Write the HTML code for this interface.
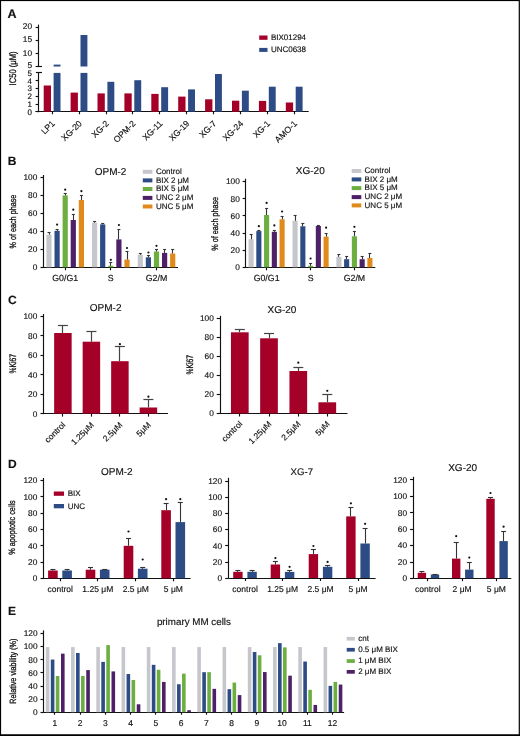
<!DOCTYPE html>
<html><head><meta charset="utf-8"><style>
html,body{margin:0;padding:0;background:#fff;}
svg{display:block;will-change:transform;font-family:"Liberation Sans",sans-serif;}
text{stroke:#111;stroke-width:0.15px;text-rendering:geometricPrecision;}
</style></head><body>
<svg width="520" height="736" viewBox="0 0 520 736">
<rect width="520" height="736" fill="#fff"/>
<text x="7.6" y="17.8" font-size="12.5" text-anchor="start" font-weight="bold" fill="#111">A</text>
<line x1="38.5" y1="24.6" x2="38.5" y2="66.5" stroke="#111" stroke-width="1.15"/>
<line x1="35.6" y1="66.5" x2="42" y2="66.5" stroke="#111" stroke-width="1.15"/>
<line x1="38.5" y1="72.9" x2="38.5" y2="112.2" stroke="#111" stroke-width="1.15"/>
<line x1="35.9" y1="72.5" x2="42" y2="72.5" stroke="#111" stroke-width="1.15"/>
<line x1="35.6" y1="27.5" x2="38.8" y2="27.5" stroke="#111" stroke-width="1.15"/>
<text x="32" y="29.4" font-size="8.3" text-anchor="end" fill="#111">20</text>
<line x1="35.6" y1="40.5" x2="38.8" y2="40.5" stroke="#111" stroke-width="1.15"/>
<text x="32" y="42.4" font-size="8.3" text-anchor="end" fill="#111">15</text>
<line x1="35.6" y1="53.5" x2="38.8" y2="53.5" stroke="#111" stroke-width="1.15"/>
<text x="32" y="55.6" font-size="8.3" text-anchor="end" fill="#111">10</text>
<text x="32" y="67.8" font-size="8.3" text-anchor="end" fill="#111">5</text>
<text x="32" y="76.1" font-size="8" text-anchor="end" fill="#111">5</text>
<line x1="35.6" y1="80.5" x2="38.8" y2="80.5" stroke="#111" stroke-width="1.15"/>
<text x="32" y="83.7" font-size="8" text-anchor="end" fill="#111">4</text>
<line x1="35.6" y1="88.5" x2="38.8" y2="88.5" stroke="#111" stroke-width="1.15"/>
<text x="32" y="91.4" font-size="8" text-anchor="end" fill="#111">3</text>
<line x1="35.6" y1="96.5" x2="38.8" y2="96.5" stroke="#111" stroke-width="1.15"/>
<text x="32" y="99.2" font-size="8" text-anchor="end" fill="#111">2</text>
<line x1="35.6" y1="104.5" x2="38.8" y2="104.5" stroke="#111" stroke-width="1.15"/>
<text x="32" y="107" font-size="8" text-anchor="end" fill="#111">1</text>
<line x1="35.6" y1="111.5" x2="38.8" y2="111.5" stroke="#111" stroke-width="1.15"/>
<text x="32" y="114.6" font-size="8" text-anchor="end" fill="#111">0</text>
<line x1="35.6" y1="111.5" x2="308.7" y2="111.5" stroke="#111" stroke-width="1.15"/>
<rect x="43.7" y="85.5" width="7.3" height="26.2" fill="#a50028"/>
<rect x="53.6" y="72.9" width="6.9" height="38.8" fill="#2d4b84"/>
<line x1="52.5" y1="111.7" x2="52.5" y2="114.3" stroke="#111" stroke-width="1.15"/>
<text transform="translate(55.5 124) rotate(-45)" font-size="8.6" text-anchor="end" fill="#111">LP1</text>
<rect x="70.6" y="92.6" width="7.3" height="19.1" fill="#a50028"/>
<rect x="80.5" y="72.9" width="6.9" height="38.8" fill="#2d4b84"/>
<line x1="79.5" y1="111.7" x2="79.5" y2="114.3" stroke="#111" stroke-width="1.15"/>
<text transform="translate(82.4 124) rotate(-45)" font-size="8.6" text-anchor="end" fill="#111">XG-20</text>
<rect x="97.5" y="93.4" width="7.3" height="18.3" fill="#a50028"/>
<rect x="107.4" y="81.8" width="6.9" height="29.9" fill="#2d4b84"/>
<line x1="106.5" y1="111.7" x2="106.5" y2="114.3" stroke="#111" stroke-width="1.15"/>
<text transform="translate(109.3 124) rotate(-45)" font-size="8.6" text-anchor="end" fill="#111">XG-2</text>
<rect x="124.4" y="93.4" width="7.3" height="18.3" fill="#a50028"/>
<rect x="134.3" y="80.2" width="6.9" height="31.5" fill="#2d4b84"/>
<line x1="132.5" y1="111.7" x2="132.5" y2="114.3" stroke="#111" stroke-width="1.15"/>
<text transform="translate(136.2 124) rotate(-45)" font-size="8.6" text-anchor="end" fill="#111">OPM-2</text>
<rect x="151.3" y="93.9" width="7.3" height="17.8" fill="#a50028"/>
<rect x="161.2" y="87.2" width="6.9" height="24.5" fill="#2d4b84"/>
<line x1="159.5" y1="111.7" x2="159.5" y2="114.3" stroke="#111" stroke-width="1.15"/>
<text transform="translate(163.1 124) rotate(-45)" font-size="8.6" text-anchor="end" fill="#111">XG-11</text>
<rect x="178.2" y="96.6" width="7.3" height="15.1" fill="#a50028"/>
<rect x="188.1" y="89.4" width="6.9" height="22.3" fill="#2d4b84"/>
<line x1="186.5" y1="111.7" x2="186.5" y2="114.3" stroke="#111" stroke-width="1.15"/>
<text transform="translate(190 124) rotate(-45)" font-size="8.6" text-anchor="end" fill="#111">XG-19</text>
<rect x="205.1" y="99.3" width="7.3" height="12.4" fill="#a50028"/>
<rect x="215" y="74" width="6.9" height="37.7" fill="#2d4b84"/>
<line x1="213.5" y1="111.7" x2="213.5" y2="114.3" stroke="#111" stroke-width="1.15"/>
<text transform="translate(216.9 124) rotate(-45)" font-size="8.6" text-anchor="end" fill="#111">XG-7</text>
<rect x="232" y="100.7" width="7.3" height="11" fill="#a50028"/>
<rect x="241.9" y="90.7" width="6.9" height="21" fill="#2d4b84"/>
<line x1="240.5" y1="111.7" x2="240.5" y2="114.3" stroke="#111" stroke-width="1.15"/>
<text transform="translate(243.8 124) rotate(-45)" font-size="8.6" text-anchor="end" fill="#111">XG-24</text>
<rect x="258.9" y="100.9" width="7.3" height="10.8" fill="#a50028"/>
<rect x="268.8" y="86.7" width="6.9" height="25" fill="#2d4b84"/>
<line x1="267.5" y1="111.7" x2="267.5" y2="114.3" stroke="#111" stroke-width="1.15"/>
<text transform="translate(270.7 124) rotate(-45)" font-size="8.6" text-anchor="end" fill="#111">XG-1</text>
<rect x="285.8" y="102.5" width="7.3" height="9.2" fill="#a50028"/>
<rect x="295.7" y="86.7" width="6.9" height="25" fill="#2d4b84"/>
<line x1="294.5" y1="111.7" x2="294.5" y2="114.3" stroke="#111" stroke-width="1.15"/>
<text transform="translate(297.6 124) rotate(-45)" font-size="8.6" text-anchor="end" fill="#111">AMO-1</text>
<rect x="53.6" y="64.6" width="6.9" height="1.9" fill="#2d4b84"/>
<rect x="80.5" y="35" width="6.9" height="31.5" fill="#2d4b84"/>
<text transform="translate(16.3 68.4) rotate(-90)" font-size="9.6" text-anchor="middle" fill="#111" textLength="34" lengthAdjust="spacingAndGlyphs" style="stroke-width:0.3px">IC50 (&#956;M)</text>
<rect x="259.2" y="35.5" width="8.3" height="4.3" fill="#a50028"/>
<text x="270.9" y="39.8" font-size="8" text-anchor="start" fill="#111">BIX01294</text>
<rect x="259.2" y="47.9" width="8.3" height="4" fill="#2d4b84"/>
<text x="270.9" y="51.9" font-size="8" text-anchor="start" fill="#111">UNC0638</text>
<text x="7.8" y="164.8" font-size="12" text-anchor="start" font-weight="bold" fill="#111">B</text>
<line x1="43.5" y1="175" x2="43.5" y2="267.8" stroke="#111" stroke-width="1.15"/>
<line x1="40.5" y1="177.5" x2="43.8" y2="177.5" stroke="#111" stroke-width="1.15"/>
<text x="37.3" y="180.1" font-size="8.3" text-anchor="end" fill="#111">100</text>
<line x1="40.5" y1="195.5" x2="43.8" y2="195.5" stroke="#111" stroke-width="1.15"/>
<text x="37.3" y="198.3" font-size="8.3" text-anchor="end" fill="#111">80</text>
<line x1="40.5" y1="213.5" x2="43.8" y2="213.5" stroke="#111" stroke-width="1.15"/>
<text x="37.3" y="216.3" font-size="8.3" text-anchor="end" fill="#111">60</text>
<line x1="40.5" y1="231.5" x2="43.8" y2="231.5" stroke="#111" stroke-width="1.15"/>
<text x="37.3" y="234.3" font-size="8.3" text-anchor="end" fill="#111">40</text>
<line x1="40.5" y1="249.5" x2="43.8" y2="249.5" stroke="#111" stroke-width="1.15"/>
<text x="37.3" y="252.1" font-size="8.3" text-anchor="end" fill="#111">20</text>
<line x1="40.5" y1="267.5" x2="43.8" y2="267.5" stroke="#111" stroke-width="1.15"/>
<text x="37.3" y="270.2" font-size="8.3" text-anchor="end" fill="#111">0</text>
<line x1="43.8" y1="267.5" x2="178" y2="267.5" stroke="#111" stroke-width="1.15"/>
<line x1="65.5" y1="267.3" x2="65.5" y2="270.3" stroke="#111" stroke-width="1.15"/>
<line x1="110.5" y1="267.3" x2="110.5" y2="270.3" stroke="#111" stroke-width="1.15"/>
<line x1="156.5" y1="267.3" x2="156.5" y2="270.3" stroke="#111" stroke-width="1.15"/>
<rect x="46.4" y="234.6" width="5.2" height="32.7" fill="#c6c6cd"/>
<line x1="49.5" y1="234.6" x2="49.5" y2="232.3" stroke="#333" stroke-width="1.1"/>
<line x1="47.5" y1="232.5" x2="50.5" y2="232.5" stroke="#333" stroke-width="1.1"/>
<rect x="54.5" y="230.8" width="5.2" height="36.5" fill="#2d4b84"/>
<line x1="57.5" y1="230.8" x2="57.5" y2="229.2" stroke="#333" stroke-width="1.1"/>
<line x1="55.6" y1="229.5" x2="58.6" y2="229.5" stroke="#333" stroke-width="1.1"/>
<circle cx="57.1" cy="224.6" r="1.1" fill="#111"/>
<rect x="62.6" y="195.4" width="5.2" height="71.9" fill="#6cae3f"/>
<line x1="65.5" y1="195.4" x2="65.5" y2="193.8" stroke="#333" stroke-width="1.1"/>
<line x1="63.7" y1="193.5" x2="66.7" y2="193.5" stroke="#333" stroke-width="1.1"/>
<circle cx="65.2" cy="189.7" r="1.1" fill="#111"/>
<rect x="70.7" y="220" width="5.2" height="47.3" fill="#4e2067"/>
<line x1="73.5" y1="220" x2="73.5" y2="214.2" stroke="#333" stroke-width="1.1"/>
<line x1="71.8" y1="214.5" x2="74.8" y2="214.5" stroke="#333" stroke-width="1.1"/>
<circle cx="73.3" cy="209.7" r="1.1" fill="#111"/>
<rect x="78.8" y="200" width="5.2" height="67.3" fill="#e08a1c"/>
<line x1="81.5" y1="200" x2="81.5" y2="195" stroke="#333" stroke-width="1.1"/>
<line x1="79.9" y1="195.5" x2="82.9" y2="195.5" stroke="#333" stroke-width="1.1"/>
<circle cx="81.4" cy="191.2" r="1.1" fill="#111"/>
<rect x="92" y="222.7" width="5.2" height="44.6" fill="#c6c6cd"/>
<line x1="94.5" y1="222.7" x2="94.5" y2="221.8" stroke="#333" stroke-width="1.1"/>
<line x1="93.1" y1="221.5" x2="96.1" y2="221.5" stroke="#333" stroke-width="1.1"/>
<rect x="100.1" y="224.4" width="5.2" height="42.9" fill="#2d4b84"/>
<line x1="102.5" y1="224.4" x2="102.5" y2="223.6" stroke="#333" stroke-width="1.1"/>
<line x1="101.2" y1="223.5" x2="104.2" y2="223.5" stroke="#333" stroke-width="1.1"/>
<rect x="108.2" y="265.8" width="5.2" height="1.5" fill="#6cae3f"/>
<line x1="110.5" y1="265.8" x2="110.5" y2="262.5" stroke="#333" stroke-width="1.1"/>
<line x1="109.3" y1="262.5" x2="112.3" y2="262.5" stroke="#333" stroke-width="1.1"/>
<circle cx="110.8" cy="259.8" r="1.1" fill="#111"/>
<rect x="116.3" y="239.4" width="5.2" height="27.9" fill="#4e2067"/>
<line x1="118.5" y1="239.4" x2="118.5" y2="229.2" stroke="#333" stroke-width="1.1"/>
<line x1="117.4" y1="229.5" x2="120.4" y2="229.5" stroke="#333" stroke-width="1.1"/>
<circle cx="118.9" cy="225" r="1.1" fill="#111"/>
<rect x="124.4" y="259.6" width="5.2" height="7.7" fill="#e08a1c"/>
<line x1="127.5" y1="259.6" x2="127.5" y2="251.5" stroke="#333" stroke-width="1.1"/>
<line x1="125.5" y1="251.5" x2="128.5" y2="251.5" stroke="#333" stroke-width="1.1"/>
<circle cx="127" cy="248" r="1.1" fill="#111"/>
<rect x="137.7" y="254.8" width="5.2" height="12.5" fill="#c6c6cd"/>
<line x1="140.5" y1="254.8" x2="140.5" y2="253" stroke="#333" stroke-width="1.1"/>
<line x1="138.8" y1="253.5" x2="141.8" y2="253.5" stroke="#333" stroke-width="1.1"/>
<rect x="145.8" y="257.3" width="5.2" height="10" fill="#2d4b84"/>
<line x1="148.5" y1="257.3" x2="148.5" y2="255.8" stroke="#333" stroke-width="1.1"/>
<line x1="146.9" y1="255.5" x2="149.9" y2="255.5" stroke="#333" stroke-width="1.1"/>
<circle cx="148.4" cy="252.5" r="1.1" fill="#111"/>
<rect x="153.9" y="251.5" width="5.2" height="15.8" fill="#6cae3f"/>
<line x1="156.5" y1="251.5" x2="156.5" y2="249.6" stroke="#333" stroke-width="1.1"/>
<line x1="155" y1="249.5" x2="158" y2="249.5" stroke="#333" stroke-width="1.1"/>
<circle cx="156.5" cy="245.8" r="1.1" fill="#111"/>
<rect x="162" y="252.9" width="5.2" height="14.4" fill="#4e2067"/>
<line x1="164.5" y1="252.9" x2="164.5" y2="249" stroke="#333" stroke-width="1.1"/>
<line x1="163.1" y1="249.5" x2="166.1" y2="249.5" stroke="#333" stroke-width="1.1"/>
<rect x="170.1" y="253.5" width="5.2" height="13.8" fill="#e08a1c"/>
<line x1="172.5" y1="253.5" x2="172.5" y2="249.6" stroke="#333" stroke-width="1.1"/>
<line x1="171.2" y1="249.5" x2="174.2" y2="249.5" stroke="#333" stroke-width="1.1"/>
<text x="65.2" y="281.2" font-size="8.8" text-anchor="middle" fill="#111">G0/G1</text>
<text x="110.8" y="281.2" font-size="8.8" text-anchor="middle" fill="#111">S</text>
<text x="156.5" y="281.2" font-size="8.8" text-anchor="middle" fill="#111">G2/M</text>
<text x="94.7" y="174.8" font-size="10" text-anchor="start" fill="#111">OPM-2</text>
<rect x="142.8" y="169.8" width="9.6" height="4" fill="#c6c6cd"/>
<text x="155.9" y="173.9" font-size="8" text-anchor="start" fill="#111">Control</text>
<rect x="142.8" y="178.4" width="9.6" height="4" fill="#2d4b84"/>
<text x="155.9" y="182.5" font-size="8" text-anchor="start" fill="#111">BIX 2 &#956;M</text>
<rect x="142.8" y="187" width="9.6" height="4" fill="#6cae3f"/>
<text x="155.9" y="191.1" font-size="8" text-anchor="start" fill="#111">BIX 5 &#956;M</text>
<rect x="142.8" y="195.9" width="9.6" height="4" fill="#4e2067"/>
<text x="155.9" y="200" font-size="8" text-anchor="start" fill="#111">UNC 2 &#956;M</text>
<rect x="142.8" y="204.5" width="9.6" height="4" fill="#e08a1c"/>
<text x="155.9" y="208.6" font-size="8" text-anchor="start" fill="#111">UNC 5 &#956;M</text>
<text transform="translate(15.5 221.6) rotate(-90)" font-size="9.3" text-anchor="middle" fill="#111" textLength="53.8" lengthAdjust="spacingAndGlyphs" style="stroke-width:0.3px">% of each phase</text>
<line x1="245.5" y1="178.7" x2="245.5" y2="267.8" stroke="#111" stroke-width="1.15"/>
<line x1="242.6" y1="181.5" x2="245.9" y2="181.5" stroke="#111" stroke-width="1.15"/>
<text x="239.8" y="184.3" font-size="8.3" text-anchor="end" fill="#111">100</text>
<line x1="242.6" y1="198.5" x2="245.9" y2="198.5" stroke="#111" stroke-width="1.15"/>
<text x="239.8" y="201.5" font-size="8.3" text-anchor="end" fill="#111">80</text>
<line x1="242.6" y1="215.5" x2="245.9" y2="215.5" stroke="#111" stroke-width="1.15"/>
<text x="239.8" y="218.6" font-size="8.3" text-anchor="end" fill="#111">60</text>
<line x1="242.6" y1="233.5" x2="245.9" y2="233.5" stroke="#111" stroke-width="1.15"/>
<text x="239.8" y="235.9" font-size="8.3" text-anchor="end" fill="#111">40</text>
<line x1="242.6" y1="250.5" x2="245.9" y2="250.5" stroke="#111" stroke-width="1.15"/>
<text x="239.8" y="253" font-size="8.3" text-anchor="end" fill="#111">20</text>
<line x1="242.6" y1="267.5" x2="245.9" y2="267.5" stroke="#111" stroke-width="1.15"/>
<text x="239.8" y="270.2" font-size="8.3" text-anchor="end" fill="#111">0</text>
<line x1="245.9" y1="267.5" x2="375.3" y2="267.5" stroke="#111" stroke-width="1.15"/>
<line x1="266.5" y1="267.3" x2="266.5" y2="270.3" stroke="#111" stroke-width="1.15"/>
<line x1="310.5" y1="267.3" x2="310.5" y2="270.3" stroke="#111" stroke-width="1.15"/>
<line x1="354.5" y1="267.3" x2="354.5" y2="270.3" stroke="#111" stroke-width="1.15"/>
<rect x="248.55" y="239.2" width="5.1" height="28.1" fill="#c6c6cd"/>
<line x1="251.5" y1="239.2" x2="251.5" y2="234" stroke="#333" stroke-width="1.1"/>
<line x1="249.6" y1="234.5" x2="252.6" y2="234.5" stroke="#333" stroke-width="1.1"/>
<rect x="256.3" y="231.1" width="5.1" height="36.2" fill="#2d4b84"/>
<line x1="258.5" y1="231.1" x2="258.5" y2="230.2" stroke="#333" stroke-width="1.1"/>
<line x1="257.35" y1="230.5" x2="260.35" y2="230.5" stroke="#333" stroke-width="1.1"/>
<circle cx="258.85" cy="226.2" r="1.1" fill="#111"/>
<rect x="264.05" y="215" width="5.1" height="52.3" fill="#6cae3f"/>
<line x1="266.5" y1="215" x2="266.5" y2="208.4" stroke="#333" stroke-width="1.1"/>
<line x1="265.1" y1="208.5" x2="268.1" y2="208.5" stroke="#333" stroke-width="1.1"/>
<circle cx="266.6" cy="202.9" r="1.1" fill="#111"/>
<rect x="271.8" y="231.8" width="5.1" height="35.5" fill="#4e2067"/>
<line x1="274.5" y1="231.8" x2="274.5" y2="230" stroke="#333" stroke-width="1.1"/>
<line x1="272.85" y1="230.5" x2="275.85" y2="230.5" stroke="#333" stroke-width="1.1"/>
<circle cx="274.35" cy="225.4" r="1.1" fill="#111"/>
<rect x="279.55" y="219.3" width="5.1" height="48" fill="#e08a1c"/>
<line x1="282.5" y1="219.3" x2="282.5" y2="216.4" stroke="#333" stroke-width="1.1"/>
<line x1="280.6" y1="216.5" x2="283.6" y2="216.5" stroke="#333" stroke-width="1.1"/>
<circle cx="282.1" cy="211.5" r="1.1" fill="#111"/>
<rect x="292.55" y="220.8" width="5.1" height="46.5" fill="#c6c6cd"/>
<line x1="295.5" y1="220.8" x2="295.5" y2="215.2" stroke="#333" stroke-width="1.1"/>
<line x1="293.6" y1="215.5" x2="296.6" y2="215.5" stroke="#333" stroke-width="1.1"/>
<rect x="300.3" y="226.3" width="5.1" height="41" fill="#2d4b84"/>
<line x1="302.5" y1="226.3" x2="302.5" y2="223.4" stroke="#333" stroke-width="1.1"/>
<line x1="301.35" y1="223.5" x2="304.35" y2="223.5" stroke="#333" stroke-width="1.1"/>
<rect x="308.05" y="265.8" width="5.1" height="1.5" fill="#6cae3f"/>
<line x1="310.5" y1="265.8" x2="310.5" y2="263.2" stroke="#333" stroke-width="1.1"/>
<line x1="309.1" y1="263.5" x2="312.1" y2="263.5" stroke="#333" stroke-width="1.1"/>
<circle cx="310.6" cy="258.5" r="1.1" fill="#111"/>
<rect x="315.8" y="226" width="5.1" height="41.3" fill="#4e2067"/>
<line x1="318.5" y1="226" x2="318.5" y2="225" stroke="#333" stroke-width="1.1"/>
<line x1="316.85" y1="225.5" x2="319.85" y2="225.5" stroke="#333" stroke-width="1.1"/>
<rect x="323.55" y="236.7" width="5.1" height="30.6" fill="#e08a1c"/>
<line x1="326.5" y1="236.7" x2="326.5" y2="233.2" stroke="#333" stroke-width="1.1"/>
<line x1="324.6" y1="233.5" x2="327.6" y2="233.5" stroke="#333" stroke-width="1.1"/>
<circle cx="326.1" cy="227.7" r="1.1" fill="#111"/>
<rect x="336.35" y="256.8" width="5.1" height="10.5" fill="#c6c6cd"/>
<line x1="338.5" y1="256.8" x2="338.5" y2="254.3" stroke="#333" stroke-width="1.1"/>
<line x1="337.4" y1="254.5" x2="340.4" y2="254.5" stroke="#333" stroke-width="1.1"/>
<rect x="344.1" y="259.2" width="5.1" height="8.1" fill="#2d4b84"/>
<line x1="346.5" y1="259.2" x2="346.5" y2="256.4" stroke="#333" stroke-width="1.1"/>
<line x1="345.15" y1="256.5" x2="348.15" y2="256.5" stroke="#333" stroke-width="1.1"/>
<rect x="351.85" y="236.3" width="5.1" height="31" fill="#6cae3f"/>
<line x1="354.5" y1="236.3" x2="354.5" y2="231.7" stroke="#333" stroke-width="1.1"/>
<line x1="352.9" y1="231.5" x2="355.9" y2="231.5" stroke="#333" stroke-width="1.1"/>
<circle cx="354.4" cy="226.8" r="1.1" fill="#111"/>
<rect x="359.6" y="259.2" width="5.1" height="8.1" fill="#4e2067"/>
<line x1="362.5" y1="259.2" x2="362.5" y2="256.6" stroke="#333" stroke-width="1.1"/>
<line x1="360.65" y1="256.5" x2="363.65" y2="256.5" stroke="#333" stroke-width="1.1"/>
<rect x="367.35" y="258" width="5.1" height="9.3" fill="#e08a1c"/>
<line x1="369.5" y1="258" x2="369.5" y2="253.3" stroke="#333" stroke-width="1.1"/>
<line x1="368.4" y1="253.5" x2="371.4" y2="253.5" stroke="#333" stroke-width="1.1"/>
<text x="266.6" y="281" font-size="8.8" text-anchor="middle" fill="#111">G0/G1</text>
<text x="310.6" y="281" font-size="8.8" text-anchor="middle" fill="#111">S</text>
<text x="354.4" y="281" font-size="8.8" text-anchor="middle" fill="#111">G2/M</text>
<text x="295.8" y="174.3" font-size="10" text-anchor="start" fill="#111">XG-20</text>
<rect x="351.7" y="169" width="9.6" height="4" fill="#c6c6cd"/>
<text x="364.6" y="173.1" font-size="8" text-anchor="start" fill="#111">Control</text>
<rect x="351.7" y="177.4" width="9.6" height="4" fill="#2d4b84"/>
<text x="364.6" y="181.5" font-size="8" text-anchor="start" fill="#111">BIX 2 &#956;M</text>
<rect x="351.7" y="186.1" width="9.6" height="4" fill="#6cae3f"/>
<text x="364.6" y="190.2" font-size="8" text-anchor="start" fill="#111">BIX 5 &#956;M</text>
<rect x="351.7" y="195.1" width="9.6" height="4" fill="#4e2067"/>
<text x="364.6" y="199.2" font-size="8" text-anchor="start" fill="#111">UNC 2 &#956;M</text>
<rect x="351.7" y="203.4" width="9.6" height="4" fill="#e08a1c"/>
<text x="364.6" y="207.5" font-size="8" text-anchor="start" fill="#111">UNC 5 &#956;M</text>
<text transform="translate(217.5 223.8) rotate(-90)" font-size="9.3" text-anchor="middle" fill="#111" textLength="53.8" lengthAdjust="spacingAndGlyphs" style="stroke-width:0.3px">% of each phase</text>
<text x="7.9" y="303.8" font-size="12" text-anchor="start" font-weight="bold" fill="#111">C</text>
<line x1="43.5" y1="314" x2="43.5" y2="414.1" stroke="#111" stroke-width="1.15"/>
<line x1="40.5" y1="316.5" x2="43.8" y2="316.5" stroke="#111" stroke-width="1.15"/>
<text x="37.3" y="319.2" font-size="8.3" text-anchor="end" fill="#111">100</text>
<line x1="40.5" y1="335.5" x2="43.8" y2="335.5" stroke="#111" stroke-width="1.15"/>
<text x="37.3" y="338.7" font-size="8.3" text-anchor="end" fill="#111">80</text>
<line x1="40.5" y1="355.5" x2="43.8" y2="355.5" stroke="#111" stroke-width="1.15"/>
<text x="37.3" y="358.3" font-size="8.3" text-anchor="end" fill="#111">60</text>
<line x1="40.5" y1="374.5" x2="43.8" y2="374.5" stroke="#111" stroke-width="1.15"/>
<text x="37.3" y="377.5" font-size="8.3" text-anchor="end" fill="#111">40</text>
<line x1="40.5" y1="394.5" x2="43.8" y2="394.5" stroke="#111" stroke-width="1.15"/>
<text x="37.3" y="396.9" font-size="8.3" text-anchor="end" fill="#111">20</text>
<line x1="40.5" y1="413.5" x2="43.8" y2="413.5" stroke="#111" stroke-width="1.15"/>
<text x="37.3" y="416.5" font-size="8.3" text-anchor="end" fill="#111">0</text>
<line x1="43.8" y1="413.5" x2="168" y2="413.5" stroke="#111" stroke-width="1.15"/>
<line x1="62.5" y1="413.6" x2="62.5" y2="416.6" stroke="#111" stroke-width="1.15"/>
<line x1="91.5" y1="413.6" x2="91.5" y2="416.6" stroke="#111" stroke-width="1.15"/>
<line x1="119.5" y1="413.6" x2="119.5" y2="416.6" stroke="#111" stroke-width="1.15"/>
<line x1="148.5" y1="413.6" x2="148.5" y2="416.6" stroke="#111" stroke-width="1.15"/>
<rect x="54.15" y="333" width="17.5" height="80.6" fill="#a50028"/>
<line x1="62.5" y1="333" x2="62.5" y2="325.5" stroke="#444" stroke-width="1.2"/>
<line x1="57.9" y1="325.5" x2="67.9" y2="325.5" stroke="#444" stroke-width="1.2"/>
<rect x="82.65" y="341.7" width="17.5" height="71.9" fill="#a50028"/>
<line x1="91.5" y1="341.7" x2="91.5" y2="331.5" stroke="#444" stroke-width="1.2"/>
<line x1="86.4" y1="331.5" x2="96.4" y2="331.5" stroke="#444" stroke-width="1.2"/>
<rect x="111.15" y="361.2" width="17.5" height="52.4" fill="#a50028"/>
<line x1="119.5" y1="361.2" x2="119.5" y2="346.9" stroke="#444" stroke-width="1.2"/>
<line x1="114.9" y1="346.5" x2="124.9" y2="346.5" stroke="#444" stroke-width="1.2"/>
<circle cx="119.9" cy="344.2" r="1.1" fill="#111"/>
<rect x="139.65" y="407.5" width="17.5" height="6.1" fill="#a50028"/>
<line x1="148.5" y1="407.5" x2="148.5" y2="399.4" stroke="#444" stroke-width="1.2"/>
<line x1="143.4" y1="399.5" x2="153.4" y2="399.5" stroke="#444" stroke-width="1.2"/>
<circle cx="148.4" cy="396.7" r="1.1" fill="#111"/>
<text transform="translate(65.9 425.5) rotate(-45)" font-size="8.4" text-anchor="end" fill="#111">control</text>
<text transform="translate(94.4 425.5) rotate(-45)" font-size="8.4" text-anchor="end" fill="#111">1.25&#956;M</text>
<text transform="translate(122.9 425.5) rotate(-45)" font-size="8.4" text-anchor="end" fill="#111">2.5&#956;M</text>
<text transform="translate(151.4 425.5) rotate(-45)" font-size="8.4" text-anchor="end" fill="#111">5&#956;M</text>
<text x="89.8" y="310.6" font-size="10" text-anchor="start" fill="#111">OPM-2</text>
<text transform="translate(15.8 363.8) rotate(-90)" font-size="9.5" text-anchor="middle" fill="#111" textLength="19.5" lengthAdjust="spacingAndGlyphs" style="stroke-width:0.3px">%Ki67</text>
<line x1="220.5" y1="315.8" x2="220.5" y2="414" stroke="#111" stroke-width="1.15"/>
<line x1="216.7" y1="318.5" x2="220" y2="318.5" stroke="#111" stroke-width="1.15"/>
<text x="213.8" y="321.2" font-size="8.3" text-anchor="end" fill="#111">100</text>
<line x1="216.7" y1="337.5" x2="220" y2="337.5" stroke="#111" stroke-width="1.15"/>
<text x="213.8" y="340.4" font-size="8.3" text-anchor="end" fill="#111">80</text>
<line x1="216.7" y1="356.5" x2="220" y2="356.5" stroke="#111" stroke-width="1.15"/>
<text x="213.8" y="359.1" font-size="8.3" text-anchor="end" fill="#111">60</text>
<line x1="216.7" y1="375.5" x2="220" y2="375.5" stroke="#111" stroke-width="1.15"/>
<text x="213.8" y="378.3" font-size="8.3" text-anchor="end" fill="#111">40</text>
<line x1="216.7" y1="394.5" x2="220" y2="394.5" stroke="#111" stroke-width="1.15"/>
<text x="213.8" y="397.1" font-size="8.3" text-anchor="end" fill="#111">20</text>
<line x1="216.7" y1="413.5" x2="220" y2="413.5" stroke="#111" stroke-width="1.15"/>
<text x="213.8" y="416.4" font-size="8.3" text-anchor="end" fill="#111">0</text>
<line x1="220" y1="413.5" x2="347.5" y2="413.5" stroke="#111" stroke-width="1.15"/>
<line x1="239.5" y1="413.5" x2="239.5" y2="416.5" stroke="#111" stroke-width="1.15"/>
<line x1="269.5" y1="413.5" x2="269.5" y2="416.5" stroke="#111" stroke-width="1.15"/>
<line x1="298.5" y1="413.5" x2="298.5" y2="416.5" stroke="#111" stroke-width="1.15"/>
<line x1="327.5" y1="413.5" x2="327.5" y2="416.5" stroke="#111" stroke-width="1.15"/>
<rect x="230.95" y="332.3" width="17.7" height="81.2" fill="#a50028"/>
<line x1="239.5" y1="332.3" x2="239.5" y2="329.2" stroke="#444" stroke-width="1.2"/>
<line x1="234.8" y1="329.5" x2="244.8" y2="329.5" stroke="#444" stroke-width="1.2"/>
<rect x="260.15" y="338.3" width="17.7" height="75.2" fill="#a50028"/>
<line x1="269.5" y1="338.3" x2="269.5" y2="333.7" stroke="#444" stroke-width="1.2"/>
<line x1="264" y1="333.5" x2="274" y2="333.5" stroke="#444" stroke-width="1.2"/>
<rect x="289.45" y="371" width="17.7" height="42.5" fill="#a50028"/>
<line x1="298.5" y1="371" x2="298.5" y2="367.7" stroke="#444" stroke-width="1.2"/>
<line x1="293.3" y1="367.5" x2="303.3" y2="367.5" stroke="#444" stroke-width="1.2"/>
<circle cx="298.3" cy="362.7" r="1.1" fill="#111"/>
<rect x="318.45" y="402.3" width="17.7" height="11.2" fill="#a50028"/>
<line x1="327.5" y1="402.3" x2="327.5" y2="394" stroke="#444" stroke-width="1.2"/>
<line x1="322.3" y1="394.5" x2="332.3" y2="394.5" stroke="#444" stroke-width="1.2"/>
<circle cx="327.3" cy="390.8" r="1.1" fill="#111"/>
<text transform="translate(242.8 424.5) rotate(-45)" font-size="8.4" text-anchor="end" fill="#111">control</text>
<text transform="translate(272 424.5) rotate(-45)" font-size="8.4" text-anchor="end" fill="#111">1.25&#956;M</text>
<text transform="translate(301.3 424.5) rotate(-45)" font-size="8.4" text-anchor="end" fill="#111">2.5&#956;M</text>
<text transform="translate(330.3 424.5) rotate(-45)" font-size="8.4" text-anchor="end" fill="#111">5&#956;M</text>
<text x="267.5" y="312.7" font-size="10" text-anchor="start" fill="#111">XG-20</text>
<text transform="translate(193.2 364.8) rotate(-90)" font-size="9.5" text-anchor="middle" fill="#111" textLength="19.5" lengthAdjust="spacingAndGlyphs" style="stroke-width:0.3px">%Ki67</text>
<text x="7.9" y="467.9" font-size="12" text-anchor="start" font-weight="bold" fill="#111">D</text>
<line x1="43.5" y1="478" x2="43.5" y2="578.8" stroke="#111" stroke-width="1.15"/>
<line x1="40.5" y1="480.5" x2="43.8" y2="480.5" stroke="#111" stroke-width="1.15"/>
<text x="37.3" y="483.3" font-size="8.3" text-anchor="end" fill="#111">120</text>
<line x1="40.5" y1="496.5" x2="43.8" y2="496.5" stroke="#111" stroke-width="1.15"/>
<text x="37.3" y="499.6" font-size="8.3" text-anchor="end" fill="#111">100</text>
<line x1="40.5" y1="513.5" x2="43.8" y2="513.5" stroke="#111" stroke-width="1.15"/>
<text x="37.3" y="516" font-size="8.3" text-anchor="end" fill="#111">80</text>
<line x1="40.5" y1="529.5" x2="43.8" y2="529.5" stroke="#111" stroke-width="1.15"/>
<text x="37.3" y="532.3" font-size="8.3" text-anchor="end" fill="#111">60</text>
<line x1="40.5" y1="545.5" x2="43.8" y2="545.5" stroke="#111" stroke-width="1.15"/>
<text x="37.3" y="548.7" font-size="8.3" text-anchor="end" fill="#111">40</text>
<line x1="40.5" y1="562.5" x2="43.8" y2="562.5" stroke="#111" stroke-width="1.15"/>
<text x="37.3" y="565" font-size="8.3" text-anchor="end" fill="#111">20</text>
<line x1="40.5" y1="578.5" x2="43.8" y2="578.5" stroke="#111" stroke-width="1.15"/>
<text x="37.3" y="581.2" font-size="8.3" text-anchor="end" fill="#111">0</text>
<line x1="43.8" y1="578.5" x2="190.5" y2="578.5" stroke="#111" stroke-width="1.15"/>
<line x1="60.5" y1="578.3" x2="60.5" y2="581.3" stroke="#111" stroke-width="1.15"/>
<line x1="97.5" y1="578.3" x2="97.5" y2="581.3" stroke="#111" stroke-width="1.15"/>
<line x1="135.5" y1="578.3" x2="135.5" y2="581.3" stroke="#111" stroke-width="1.15"/>
<line x1="173.5" y1="578.3" x2="173.5" y2="581.3" stroke="#111" stroke-width="1.15"/>
<rect x="48.1" y="570.5" width="9.6" height="7.8" fill="#a50028"/>
<line x1="52.5" y1="570.5" x2="52.5" y2="569.3" stroke="#333" stroke-width="1.1"/>
<line x1="50.4" y1="569.5" x2="55.4" y2="569.5" stroke="#333" stroke-width="1.1"/>
<rect x="62.3" y="570.5" width="9.6" height="7.8" fill="#2d4b84"/>
<line x1="67.5" y1="570.5" x2="67.5" y2="569.3" stroke="#333" stroke-width="1.1"/>
<line x1="64.6" y1="569.5" x2="69.6" y2="569.5" stroke="#333" stroke-width="1.1"/>
<text x="60.2" y="592.4" font-size="8.5" text-anchor="middle" fill="#111">control</text>
<rect x="85.7" y="569.7" width="9.6" height="8.6" fill="#a50028"/>
<line x1="90.5" y1="569.7" x2="90.5" y2="567.3" stroke="#333" stroke-width="1.1"/>
<line x1="88" y1="567.5" x2="93" y2="567.5" stroke="#333" stroke-width="1.1"/>
<rect x="99.9" y="569.7" width="9.6" height="8.6" fill="#2d4b84"/>
<line x1="104.5" y1="569.7" x2="104.5" y2="569" stroke="#333" stroke-width="1.1"/>
<line x1="102.2" y1="569.5" x2="107.2" y2="569.5" stroke="#333" stroke-width="1.1"/>
<text x="97.8" y="592.4" font-size="8.5" text-anchor="middle" fill="#111">1.25 &#956;M</text>
<rect x="123.7" y="545.8" width="9.6" height="32.5" fill="#a50028"/>
<line x1="128.5" y1="545.8" x2="128.5" y2="538.2" stroke="#333" stroke-width="1.1"/>
<line x1="126" y1="538.5" x2="131" y2="538.5" stroke="#333" stroke-width="1.1"/>
<circle cx="128.5" cy="531.5" r="1.1" fill="#111"/>
<rect x="137.9" y="568.7" width="9.6" height="9.6" fill="#2d4b84"/>
<line x1="142.5" y1="568.7" x2="142.5" y2="567.3" stroke="#333" stroke-width="1.1"/>
<line x1="140.2" y1="567.5" x2="145.2" y2="567.5" stroke="#333" stroke-width="1.1"/>
<circle cx="142.7" cy="559.5" r="1.1" fill="#111"/>
<text x="135.8" y="592.4" font-size="8.5" text-anchor="middle" fill="#111">2.5 &#956;M</text>
<rect x="161.3" y="510.2" width="9.6" height="68.1" fill="#a50028"/>
<line x1="166.5" y1="510.2" x2="166.5" y2="503.6" stroke="#333" stroke-width="1.1"/>
<line x1="163.6" y1="503.5" x2="168.6" y2="503.5" stroke="#333" stroke-width="1.1"/>
<circle cx="166.1" cy="499.2" r="1.1" fill="#111"/>
<rect x="175.5" y="522.1" width="9.6" height="56.2" fill="#2d4b84"/>
<line x1="180.5" y1="522.1" x2="180.5" y2="502.3" stroke="#333" stroke-width="1.1"/>
<line x1="177.8" y1="502.5" x2="182.8" y2="502.5" stroke="#333" stroke-width="1.1"/>
<circle cx="180.3" cy="499.2" r="1.1" fill="#111"/>
<text x="173.4" y="592.4" font-size="8.5" text-anchor="middle" fill="#111">5 &#956;M</text>
<text x="101" y="474.9" font-size="10" text-anchor="start" fill="#111">OPM-2</text>
<rect x="53.8" y="491.5" width="10.2" height="4.3" fill="#a50028"/>
<text x="67.7" y="496.3" font-size="8" text-anchor="start" fill="#111">BIX</text>
<rect x="53.8" y="504" width="10.2" height="4.3" fill="#2d4b84"/>
<text x="67.7" y="508.5" font-size="8" text-anchor="start" fill="#111">UNC</text>
<text transform="translate(15.2 527.5) rotate(-90)" font-size="9.2" text-anchor="middle" fill="#111" textLength="54.5" lengthAdjust="spacingAndGlyphs" style="stroke-width:0.3px">% apoptotic cells</text>
<line x1="228.5" y1="477.8" x2="228.5" y2="578.5" stroke="#111" stroke-width="1.15"/>
<line x1="225.2" y1="481.5" x2="228.5" y2="481.5" stroke="#111" stroke-width="1.15"/>
<text x="222" y="484" font-size="8.3" text-anchor="end" fill="#111">120</text>
<line x1="225.2" y1="497.5" x2="228.5" y2="497.5" stroke="#111" stroke-width="1.15"/>
<text x="222" y="500.1" font-size="8.3" text-anchor="end" fill="#111">100</text>
<line x1="225.2" y1="513.5" x2="228.5" y2="513.5" stroke="#111" stroke-width="1.15"/>
<text x="222" y="516.4" font-size="8.3" text-anchor="end" fill="#111">80</text>
<line x1="225.2" y1="529.5" x2="228.5" y2="529.5" stroke="#111" stroke-width="1.15"/>
<text x="222" y="532.4" font-size="8.3" text-anchor="end" fill="#111">60</text>
<line x1="225.2" y1="545.5" x2="228.5" y2="545.5" stroke="#111" stroke-width="1.15"/>
<text x="222" y="548.7" font-size="8.3" text-anchor="end" fill="#111">40</text>
<line x1="225.2" y1="562.5" x2="228.5" y2="562.5" stroke="#111" stroke-width="1.15"/>
<text x="222" y="565" font-size="8.3" text-anchor="end" fill="#111">20</text>
<line x1="225.2" y1="578.5" x2="228.5" y2="578.5" stroke="#111" stroke-width="1.15"/>
<text x="222" y="580.9" font-size="8.3" text-anchor="end" fill="#111">0</text>
<line x1="228.5" y1="578.5" x2="375.6" y2="578.5" stroke="#111" stroke-width="1.15"/>
<line x1="245.5" y1="578" x2="245.5" y2="581" stroke="#111" stroke-width="1.15"/>
<line x1="282.5" y1="578" x2="282.5" y2="581" stroke="#111" stroke-width="1.15"/>
<line x1="320.5" y1="578" x2="320.5" y2="581" stroke="#111" stroke-width="1.15"/>
<line x1="358.5" y1="578" x2="358.5" y2="581" stroke="#111" stroke-width="1.15"/>
<rect x="233.2" y="571.8" width="9.4" height="6.2" fill="#a50028"/>
<line x1="237.5" y1="571.8" x2="237.5" y2="570.2" stroke="#333" stroke-width="1.1"/>
<line x1="235.4" y1="570.5" x2="240.4" y2="570.5" stroke="#333" stroke-width="1.1"/>
<rect x="247.4" y="571.8" width="9.4" height="6.2" fill="#2d4b84"/>
<line x1="252.5" y1="571.8" x2="252.5" y2="570.2" stroke="#333" stroke-width="1.1"/>
<line x1="249.6" y1="570.5" x2="254.6" y2="570.5" stroke="#333" stroke-width="1.1"/>
<text x="245.1" y="592.3" font-size="8.5" text-anchor="middle" fill="#111">control</text>
<rect x="270.7" y="564.5" width="9.4" height="13.5" fill="#a50028"/>
<line x1="275.5" y1="564.5" x2="275.5" y2="561.5" stroke="#333" stroke-width="1.1"/>
<line x1="272.9" y1="561.5" x2="277.9" y2="561.5" stroke="#333" stroke-width="1.1"/>
<circle cx="275.4" cy="558.1" r="1.1" fill="#111"/>
<rect x="284.9" y="571.9" width="9.4" height="6.1" fill="#2d4b84"/>
<line x1="289.5" y1="571.9" x2="289.5" y2="570.4" stroke="#333" stroke-width="1.1"/>
<line x1="287.1" y1="570.5" x2="292.1" y2="570.5" stroke="#333" stroke-width="1.1"/>
<circle cx="289.6" cy="566.8" r="1.1" fill="#111"/>
<text x="282.6" y="592.3" font-size="8.5" text-anchor="middle" fill="#111">1.25 &#956;M</text>
<rect x="308.7" y="554.1" width="9.4" height="23.9" fill="#a50028"/>
<line x1="313.5" y1="554.1" x2="313.5" y2="549.7" stroke="#333" stroke-width="1.1"/>
<line x1="310.9" y1="549.5" x2="315.9" y2="549.5" stroke="#333" stroke-width="1.1"/>
<circle cx="313.4" cy="546" r="1.1" fill="#111"/>
<rect x="322.9" y="566.8" width="9.4" height="11.2" fill="#2d4b84"/>
<line x1="327.5" y1="566.8" x2="327.5" y2="565.1" stroke="#333" stroke-width="1.1"/>
<line x1="325.1" y1="565.5" x2="330.1" y2="565.5" stroke="#333" stroke-width="1.1"/>
<circle cx="327.6" cy="561.9" r="1.1" fill="#111"/>
<text x="320.6" y="592.3" font-size="8.5" text-anchor="middle" fill="#111">2.5 &#956;M</text>
<rect x="346.2" y="516.4" width="9.4" height="61.6" fill="#a50028"/>
<line x1="350.5" y1="516.4" x2="350.5" y2="507.3" stroke="#333" stroke-width="1.1"/>
<line x1="348.4" y1="507.5" x2="353.4" y2="507.5" stroke="#333" stroke-width="1.1"/>
<circle cx="350.9" cy="503.3" r="1.1" fill="#111"/>
<rect x="360.4" y="543.5" width="9.4" height="34.5" fill="#2d4b84"/>
<line x1="365.5" y1="543.5" x2="365.5" y2="528.5" stroke="#333" stroke-width="1.1"/>
<line x1="362.6" y1="528.5" x2="367.6" y2="528.5" stroke="#333" stroke-width="1.1"/>
<circle cx="365.1" cy="523.8" r="1.1" fill="#111"/>
<text x="358.1" y="592.3" font-size="8.5" text-anchor="middle" fill="#111">5 &#956;M</text>
<text x="290.6" y="474.9" font-size="9.6" text-anchor="start" fill="#111">XG-7</text>
<line x1="413.5" y1="476.8" x2="413.5" y2="578.7" stroke="#111" stroke-width="1.15"/>
<line x1="410" y1="479.5" x2="413.3" y2="479.5" stroke="#111" stroke-width="1.15"/>
<text x="407.1" y="482.6" font-size="8.3" text-anchor="end" fill="#111">120</text>
<line x1="410" y1="496.5" x2="413.3" y2="496.5" stroke="#111" stroke-width="1.15"/>
<text x="407.1" y="499.3" font-size="8.3" text-anchor="end" fill="#111">100</text>
<line x1="410" y1="512.5" x2="413.3" y2="512.5" stroke="#111" stroke-width="1.15"/>
<text x="407.1" y="515.6" font-size="8.3" text-anchor="end" fill="#111">80</text>
<line x1="410" y1="529.5" x2="413.3" y2="529.5" stroke="#111" stroke-width="1.15"/>
<text x="407.1" y="532.1" font-size="8.3" text-anchor="end" fill="#111">60</text>
<line x1="410" y1="545.5" x2="413.3" y2="545.5" stroke="#111" stroke-width="1.15"/>
<text x="407.1" y="548.4" font-size="8.3" text-anchor="end" fill="#111">40</text>
<line x1="410" y1="562.5" x2="413.3" y2="562.5" stroke="#111" stroke-width="1.15"/>
<text x="407.1" y="565" font-size="8.3" text-anchor="end" fill="#111">20</text>
<line x1="410" y1="578.5" x2="413.3" y2="578.5" stroke="#111" stroke-width="1.15"/>
<text x="407.1" y="581.1" font-size="8.3" text-anchor="end" fill="#111">0</text>
<line x1="413.3" y1="578.5" x2="511.3" y2="578.5" stroke="#111" stroke-width="1.15"/>
<line x1="427.5" y1="578.2" x2="427.5" y2="581.2" stroke="#111" stroke-width="1.15"/>
<line x1="462.5" y1="578.2" x2="462.5" y2="581.2" stroke="#111" stroke-width="1.15"/>
<line x1="496.5" y1="578.2" x2="496.5" y2="581.2" stroke="#111" stroke-width="1.15"/>
<rect x="417.7" y="572.8" width="8.4" height="5.4" fill="#a50028"/>
<line x1="421.5" y1="572.8" x2="421.5" y2="571.3" stroke="#333" stroke-width="1.1"/>
<line x1="419.4" y1="571.5" x2="424.4" y2="571.5" stroke="#333" stroke-width="1.1"/>
<rect x="430.8" y="574.5" width="8.4" height="3.7" fill="#2d4b84"/>
<line x1="435.5" y1="574.5" x2="435.5" y2="574.3" stroke="#333" stroke-width="1.1"/>
<line x1="432.5" y1="574.5" x2="437.5" y2="574.5" stroke="#333" stroke-width="1.1"/>
<text x="427.8" y="592" font-size="8.5" text-anchor="middle" fill="#111">control</text>
<rect x="452" y="558.6" width="8.4" height="19.6" fill="#a50028"/>
<line x1="456.5" y1="558.6" x2="456.5" y2="542.1" stroke="#333" stroke-width="1.1"/>
<line x1="453.7" y1="542.5" x2="458.7" y2="542.5" stroke="#333" stroke-width="1.1"/>
<circle cx="456.2" cy="536.2" r="1.1" fill="#111"/>
<rect x="465.1" y="569.6" width="8.4" height="8.6" fill="#2d4b84"/>
<line x1="469.5" y1="569.6" x2="469.5" y2="562.9" stroke="#333" stroke-width="1.1"/>
<line x1="466.8" y1="562.5" x2="471.8" y2="562.5" stroke="#333" stroke-width="1.1"/>
<circle cx="469.3" cy="557.6" r="1.1" fill="#111"/>
<text x="462.1" y="592" font-size="8.5" text-anchor="middle" fill="#111">2 &#956;M</text>
<rect x="486.3" y="498.8" width="8.4" height="79.4" fill="#a50028"/>
<line x1="490.5" y1="498.8" x2="490.5" y2="497.7" stroke="#333" stroke-width="1.1"/>
<line x1="488" y1="497.5" x2="493" y2="497.5" stroke="#333" stroke-width="1.1"/>
<circle cx="490.5" cy="493" r="1.1" fill="#111"/>
<rect x="499.4" y="541.1" width="8.4" height="37.1" fill="#2d4b84"/>
<line x1="503.5" y1="541.1" x2="503.5" y2="531.5" stroke="#333" stroke-width="1.1"/>
<line x1="501.1" y1="531.5" x2="506.1" y2="531.5" stroke="#333" stroke-width="1.1"/>
<circle cx="503.6" cy="526.7" r="1.1" fill="#111"/>
<text x="496.4" y="592" font-size="8.5" text-anchor="middle" fill="#111">5 &#956;M</text>
<text x="448.2" y="470.7" font-size="10" text-anchor="start" fill="#111">XG-20</text>
<text x="7.9" y="615" font-size="12" text-anchor="start" font-weight="bold" fill="#111">E</text>
<line x1="43.5" y1="630.4" x2="43.5" y2="712.7" stroke="#111" stroke-width="1.15"/>
<line x1="40.5" y1="633.5" x2="43.8" y2="633.5" stroke="#111" stroke-width="1.15"/>
<text x="37.5" y="636" font-size="8.3" text-anchor="end" fill="#111">120</text>
<line x1="40.5" y1="646.5" x2="43.8" y2="646.5" stroke="#111" stroke-width="1.15"/>
<text x="37.5" y="649.1" font-size="8.3" text-anchor="end" fill="#111">100</text>
<line x1="40.5" y1="659.5" x2="43.8" y2="659.5" stroke="#111" stroke-width="1.15"/>
<text x="37.5" y="662.5" font-size="8.3" text-anchor="end" fill="#111">80</text>
<line x1="40.5" y1="672.5" x2="43.8" y2="672.5" stroke="#111" stroke-width="1.15"/>
<text x="37.5" y="675.6" font-size="8.3" text-anchor="end" fill="#111">60</text>
<line x1="40.5" y1="686.5" x2="43.8" y2="686.5" stroke="#111" stroke-width="1.15"/>
<text x="37.5" y="688.9" font-size="8.3" text-anchor="end" fill="#111">40</text>
<line x1="40.5" y1="699.5" x2="43.8" y2="699.5" stroke="#111" stroke-width="1.15"/>
<text x="37.5" y="702.1" font-size="8.3" text-anchor="end" fill="#111">20</text>
<line x1="40.5" y1="712.5" x2="43.8" y2="712.5" stroke="#111" stroke-width="1.15"/>
<text x="37.5" y="715.1" font-size="8.3" text-anchor="end" fill="#111">0</text>
<line x1="43.8" y1="712.5" x2="344.1" y2="712.5" stroke="#111" stroke-width="1.15"/>
<rect x="45.8" y="647.06" width="3.6" height="65.14" fill="#c6c6cd"/>
<rect x="50.8" y="659.56" width="3.6" height="52.64" fill="#2d4b84"/>
<rect x="55.8" y="676.01" width="3.6" height="36.19" fill="#6cae3f"/>
<rect x="61" y="653.64" width="3.6" height="58.56" fill="#4e2067"/>
<line x1="54.5" y1="712.2" x2="54.5" y2="714.7" stroke="#111" stroke-width="1.15"/>
<text x="54.8" y="726.3" font-size="8.5" text-anchor="middle" fill="#111">1</text>
<rect x="71.05" y="647.06" width="3.6" height="65.14" fill="#c6c6cd"/>
<rect x="76.05" y="652.98" width="3.6" height="59.22" fill="#2d4b84"/>
<rect x="81.05" y="676.01" width="3.6" height="36.19" fill="#6cae3f"/>
<rect x="86.25" y="670.09" width="3.6" height="42.11" fill="#4e2067"/>
<line x1="80.5" y1="712.2" x2="80.5" y2="714.7" stroke="#111" stroke-width="1.15"/>
<text x="80.05" y="726.3" font-size="8.5" text-anchor="middle" fill="#111">2</text>
<rect x="96.3" y="647.06" width="3.6" height="65.14" fill="#c6c6cd"/>
<rect x="101.3" y="661.86" width="3.6" height="50.34" fill="#2d4b84"/>
<rect x="106.3" y="645.08" width="3.6" height="67.12" fill="#6cae3f"/>
<rect x="111.5" y="671.4" width="3.6" height="40.8" fill="#4e2067"/>
<line x1="105.5" y1="712.2" x2="105.5" y2="714.7" stroke="#111" stroke-width="1.15"/>
<text x="105.3" y="726.3" font-size="8.5" text-anchor="middle" fill="#111">3</text>
<rect x="121.55" y="647.06" width="3.6" height="65.14" fill="#c6c6cd"/>
<rect x="126.55" y="674.04" width="3.6" height="38.16" fill="#2d4b84"/>
<rect x="131.55" y="679.96" width="3.6" height="32.24" fill="#6cae3f"/>
<rect x="136.75" y="704.3" width="3.6" height="7.9" fill="#4e2067"/>
<line x1="130.5" y1="712.2" x2="130.5" y2="714.7" stroke="#111" stroke-width="1.15"/>
<text x="130.55" y="726.3" font-size="8.5" text-anchor="middle" fill="#111">4</text>
<rect x="146.8" y="647.06" width="3.6" height="65.14" fill="#c6c6cd"/>
<rect x="151.8" y="664.82" width="3.6" height="47.38" fill="#2d4b84"/>
<rect x="156.8" y="669.76" width="3.6" height="42.44" fill="#6cae3f"/>
<rect x="162" y="681.93" width="3.6" height="30.27" fill="#4e2067"/>
<line x1="155.5" y1="712.2" x2="155.5" y2="714.7" stroke="#111" stroke-width="1.15"/>
<text x="155.8" y="726.3" font-size="8.5" text-anchor="middle" fill="#111">5</text>
<rect x="172.05" y="647.06" width="3.6" height="65.14" fill="#c6c6cd"/>
<rect x="177.05" y="684.24" width="3.6" height="27.97" fill="#2d4b84"/>
<rect x="182.05" y="673.64" width="3.6" height="38.56" fill="#6cae3f"/>
<rect x="187.25" y="710.23" width="3.6" height="1.97" fill="#4e2067"/>
<line x1="181.5" y1="712.2" x2="181.5" y2="714.7" stroke="#111" stroke-width="1.15"/>
<text x="181.05" y="726.3" font-size="8.5" text-anchor="middle" fill="#111">6</text>
<rect x="197.3" y="647.06" width="3.6" height="65.14" fill="#c6c6cd"/>
<rect x="202.3" y="672.19" width="3.6" height="40.01" fill="#2d4b84"/>
<rect x="207.3" y="672.19" width="3.6" height="40.01" fill="#6cae3f"/>
<rect x="212.5" y="688.84" width="3.6" height="23.36" fill="#4e2067"/>
<line x1="206.5" y1="712.2" x2="206.5" y2="714.7" stroke="#111" stroke-width="1.15"/>
<text x="206.3" y="726.3" font-size="8.5" text-anchor="middle" fill="#111">7</text>
<rect x="222.55" y="647.06" width="3.6" height="65.14" fill="#c6c6cd"/>
<rect x="227.55" y="689.17" width="3.6" height="23.03" fill="#2d4b84"/>
<rect x="232.55" y="682.59" width="3.6" height="29.61" fill="#6cae3f"/>
<rect x="237.75" y="695.09" width="3.6" height="17.11" fill="#4e2067"/>
<line x1="231.5" y1="712.2" x2="231.5" y2="714.7" stroke="#111" stroke-width="1.15"/>
<text x="231.55" y="726.3" font-size="8.5" text-anchor="middle" fill="#111">8</text>
<rect x="247.8" y="647.06" width="3.6" height="65.14" fill="#c6c6cd"/>
<rect x="252.8" y="651.99" width="3.6" height="60.21" fill="#2d4b84"/>
<rect x="257.8" y="655.28" width="3.6" height="56.92" fill="#6cae3f"/>
<rect x="263" y="672.06" width="3.6" height="40.14" fill="#4e2067"/>
<line x1="256.5" y1="712.2" x2="256.5" y2="714.7" stroke="#111" stroke-width="1.15"/>
<text x="256.8" y="726.3" font-size="8.5" text-anchor="middle" fill="#111">9</text>
<rect x="273.05" y="647.06" width="3.6" height="65.14" fill="#c6c6cd"/>
<rect x="278.05" y="643.11" width="3.6" height="69.09" fill="#2d4b84"/>
<rect x="283.05" y="647.39" width="3.6" height="64.81" fill="#6cae3f"/>
<rect x="288.25" y="675.68" width="3.6" height="36.52" fill="#4e2067"/>
<line x1="282.5" y1="712.2" x2="282.5" y2="714.7" stroke="#111" stroke-width="1.15"/>
<text x="282.05" y="726.3" font-size="8.5" text-anchor="middle" fill="#111">10</text>
<rect x="298.3" y="647.06" width="3.6" height="65.14" fill="#c6c6cd"/>
<rect x="303.3" y="661.53" width="3.6" height="50.67" fill="#2d4b84"/>
<rect x="308.3" y="689.83" width="3.6" height="22.37" fill="#6cae3f"/>
<rect x="313.5" y="704.96" width="3.6" height="7.24" fill="#4e2067"/>
<line x1="307.5" y1="712.2" x2="307.5" y2="714.7" stroke="#111" stroke-width="1.15"/>
<text x="307.3" y="726.3" font-size="8.5" text-anchor="middle" fill="#111">11</text>
<rect x="323.55" y="647.06" width="3.6" height="65.14" fill="#c6c6cd"/>
<rect x="328.55" y="685.88" width="3.6" height="26.32" fill="#2d4b84"/>
<rect x="333.55" y="681.93" width="3.6" height="30.27" fill="#6cae3f"/>
<rect x="338.75" y="684.56" width="3.6" height="27.64" fill="#4e2067"/>
<line x1="332.5" y1="712.2" x2="332.5" y2="714.7" stroke="#111" stroke-width="1.15"/>
<text x="332.55" y="726.3" font-size="8.5" text-anchor="middle" fill="#111">12</text>
<text x="156.9" y="624.8" font-size="9.8" text-anchor="start" fill="#111">primary MM cells</text>
<rect x="346.7" y="636.9" width="8.1" height="3.7" fill="#c6c6cd"/>
<text x="358.2" y="640.8" font-size="8" text-anchor="start" fill="#111">cnt</text>
<rect x="346.7" y="647.9" width="8.1" height="3.7" fill="#2d4b84"/>
<text x="358.2" y="651.8" font-size="8" text-anchor="start" fill="#111">0.5 &#956;M BIX</text>
<rect x="346.7" y="659.2" width="8.1" height="3.7" fill="#6cae3f"/>
<text x="358.2" y="663.1" font-size="8" text-anchor="start" fill="#111">1 &#956;M BIX</text>
<rect x="346.7" y="670" width="8.1" height="3.7" fill="#4e2067"/>
<text x="358.2" y="673.9" font-size="8" text-anchor="start" fill="#111">2 &#956;M BIX</text>
<text transform="translate(15.7 671.2) rotate(-90)" font-size="9" text-anchor="middle" fill="#111" textLength="65" lengthAdjust="spacingAndGlyphs" style="stroke-width:0.3px">Relative viability (%)</text>
<rect x="0.5" y="0.5" width="518.8" height="734.6" fill="none" stroke="#000" stroke-width="1.2"/>
<line x1="0" y1="735.2" x2="520" y2="735.2" stroke="#000" stroke-width="1.6"/>
</svg>
</body></html>
